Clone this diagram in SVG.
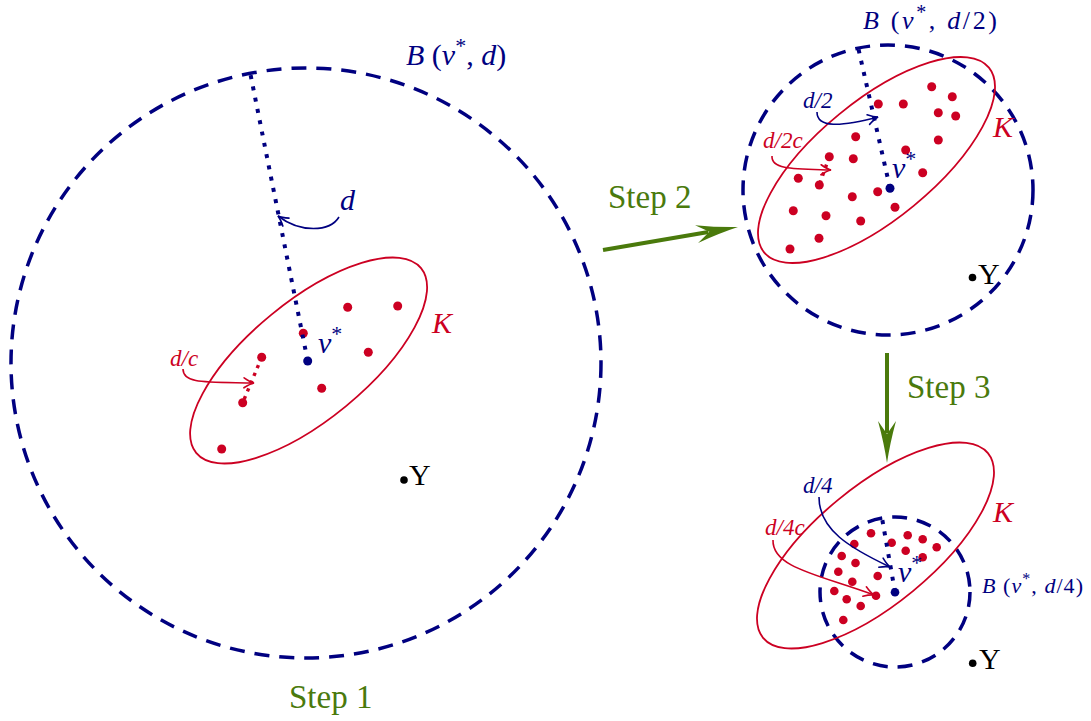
<svg xmlns="http://www.w3.org/2000/svg" width="1091" height="721" viewBox="0 0 1091 721">
<defs>
<style>
.ball{fill:none;stroke:#000080;stroke-width:3.5;stroke-dasharray:15 10}
.K{fill:none;stroke:#cc0022;stroke-width:1.8}
.pt{fill:#cc0022}
.nu{fill:#000080}
.y{fill:#000}
.rad{fill:none;stroke:#000080;stroke-width:4;stroke-dasharray:4 7.5}
.radr{fill:none;stroke:#cc0022;stroke-width:3.4;stroke-dasharray:3.4 5}
.ab{fill:none;stroke:#000080;stroke-width:1.6;marker-end:url(#hb)}
.ar{fill:none;stroke:#cc0022;stroke-width:1.6;marker-end:url(#hr)}
.step{fill:none;stroke:#4a7a0c;stroke-width:4;marker-end:url(#hg)}
text{font-family:"Liberation Serif","Times New Roman",serif}
.tb{fill:#000080}
.tr{fill:#cc0022}
.tk{fill:#000}
.tg{fill:#4a7a0c;font-size:33px}
.i{font-style:italic}
.big{font-size:30px}
.sm{font-size:23px}
.bsm{font-size:22px}
</style>
<marker id="hb" markerUnits="userSpaceOnUse" orient="auto" overflow="visible" refX="0" refY="0" markerWidth="1" markerHeight="1">
<path d="M-10,-5 Q-4,-1 0,0 Q-4,1 -10,5" fill="none" stroke="#000080" stroke-width="1.6" stroke-linecap="round"/>
</marker>
<marker id="hr" markerUnits="userSpaceOnUse" orient="auto" overflow="visible" refX="0" refY="0" markerWidth="1" markerHeight="1">
<path d="M-10,-5 Q-4,-1 0,0 Q-4,1 -10,5" fill="none" stroke="#cc0022" stroke-width="1.6" stroke-linecap="round"/>
</marker>
<marker id="hg" markerUnits="userSpaceOnUse" orient="auto" overflow="visible" refX="-30" refY="0" markerWidth="1" markerHeight="1">
<path d="M0,0 Q-20,-3 -42,-9 L-29,0 L-42,9 Q-20,3 0,0 Z" fill="#4a7a0c"/>
</marker>
</defs>

<g id="ball-d">
<circle class="ball" cx="306" cy="363" r="295"/>
<text class="tb big" x="406" y="65"><tspan class="i">B</tspan> (<tspan class="i">ν</tspan><tspan dy="-12" font-size="22">*</tspan><tspan dy="12">, </tspan><tspan class="i">d</tspan>)</text>
</g>
<g id="K-1">
<ellipse class="K" cx="308.6" cy="360.5" rx="145.5" ry="59" transform="rotate(-39.4 308.6 360.5)"/>
<text class="tr big i" x="432" y="333">K</text>
<circle class="pt" cx="347.7" cy="307.3" r="4.5"/>
<circle class="pt" cx="397.7" cy="306" r="4.5"/>
<circle class="pt" cx="303.3" cy="333.3" r="4.5"/>
<circle class="pt" cx="368.3" cy="352.3" r="4.5"/>
<circle class="pt" cx="261.7" cy="357.3" r="4.5"/>
<circle class="pt" cx="321.7" cy="388.3" r="4.5"/>
<circle class="pt" cx="242.7" cy="402.7" r="4.5"/>
<circle class="pt" cx="221.7" cy="449" r="4.5"/>
</g>
<g id="nu-1">
<circle class="nu" cx="307.7" cy="361" r="4.5"/>
<text class="tb big" x="318" y="353"><tspan class="i">ν</tspan><tspan dy="-12" font-size="22">*</tspan></text>
</g>
<g id="Y-1">
<circle class="y" cx="404" cy="480" r="3.8"/>
<text class="tk big" x="409" y="485">Y</text>
</g>
<g id="label-step1"><text class="tg" x="289" y="708">Step 1</text></g>

<g id="ball-d2">
<circle class="ball" cx="888" cy="190" r="145"/>
<text class="tb" font-size="26" x="863" y="29" textLength="134"><tspan class="i">B</tspan> (<tspan class="i">ν</tspan><tspan dy="-10" font-size="20">*</tspan><tspan dy="10">, </tspan><tspan class="i">d</tspan>/2)</text>
</g>
<g id="K-2">
<ellipse class="K" cx="876.5" cy="160" rx="145.5" ry="59" transform="rotate(-39.4 876.5 160)"/>
<text class="tr big i" x="993" y="137">K</text>
<circle class="pt" cx="931.7" cy="86.7" r="4.5"/>
<circle class="pt" cx="952.3" cy="96.7" r="4.5"/>
<circle class="pt" cx="878.3" cy="104" r="4.5"/>
<circle class="pt" cx="903.3" cy="104" r="4.5"/>
<circle class="pt" cx="938.3" cy="112.7" r="4.5"/>
<circle class="pt" cx="955.7" cy="116" r="4.5"/>
<circle class="pt" cx="855.7" cy="136.7" r="4.5"/>
<circle class="pt" cx="938.3" cy="140" r="4.5"/>
<circle class="pt" cx="905.7" cy="150" r="4.5"/>
<circle class="pt" cx="829.3" cy="156.7" r="4.5"/>
<circle class="pt" cx="853.3" cy="158.7" r="4.5"/>
<circle class="pt" cx="922.7" cy="172.7" r="4.5"/>
<circle class="pt" cx="798.3" cy="178.3" r="4.5"/>
<circle class="pt" cx="819.3" cy="185" r="4.5"/>
<circle class="pt" cx="877.7" cy="191.7" r="4.5"/>
<circle class="pt" cx="852.3" cy="196.7" r="4.5"/>
<circle class="pt" cx="895" cy="207.3" r="4.5"/>
<circle class="pt" cx="793.3" cy="210.7" r="4.5"/>
<circle class="pt" cx="826" cy="215.7" r="4.5"/>
<circle class="pt" cx="860.7" cy="221" r="4.5"/>
<circle class="pt" cx="819" cy="238.3" r="4.5"/>
<circle class="pt" cx="790" cy="249" r="4.5"/>
</g>
<g id="nu-2">
<circle class="nu" cx="890" cy="188.3" r="4.5"/>
<text class="tb big" x="892" y="178"><tspan class="i">ν</tspan><tspan dy="-12" font-size="22">*</tspan></text>
</g>
<g id="Y-2">
<circle class="y" cx="972.5" cy="277.5" r="3.8"/>
<text class="tk big" x="978" y="284">Y</text>
</g>
<g id="label-step2"><text class="tg" x="608" y="208">Step 2</text></g>
<g id="label-step3"><text class="tg" x="907" y="398">Step 3</text></g>

<g id="ball-d4">
<circle class="ball" cx="895" cy="592" r="75"/>
<text class="tb bsm" x="982" y="593" textLength="101"><tspan class="i">B</tspan> (<tspan class="i">ν</tspan><tspan dy="-9" font-size="16">*</tspan><tspan dy="9">, </tspan><tspan class="i">d</tspan>/4)</text>
</g>
<g id="K-3">
<ellipse class="K" cx="875.5" cy="545.5" rx="145.5" ry="59" transform="rotate(-39.4 875.5 545.5)"/>
<text class="tr big i" x="993" y="522">K</text>
<circle class="pt" cx="871" cy="533.3" r="4.3"/>
<circle class="pt" cx="891.7" cy="542.7" r="4.3"/>
<circle class="pt" cx="907.7" cy="535.3" r="4.3"/>
<circle class="pt" cx="922.7" cy="539.3" r="4.3"/>
<circle class="pt" cx="936.7" cy="547.3" r="4.3"/>
<circle class="pt" cx="854.3" cy="544" r="4.3"/>
<circle class="pt" cx="905.7" cy="550.7" r="4.3"/>
<circle class="pt" cx="922.7" cy="557.3" r="4.3"/>
<circle class="pt" cx="841.7" cy="556" r="4.3"/>
<circle class="pt" cx="855.5" cy="563" r="4.3"/>
<circle class="pt" cx="838.3" cy="571.7" r="4.3"/>
<circle class="pt" cx="877.7" cy="576" r="4.3"/>
<circle class="pt" cx="852.3" cy="581.7" r="4.3"/>
<circle class="pt" cx="834.3" cy="591" r="4.3"/>
<circle class="pt" cx="846.7" cy="599.3" r="4.3"/>
<circle class="pt" cx="876" cy="595.7" r="4.3"/>
<circle class="pt" cx="860.7" cy="606" r="4.3"/>
<circle class="pt" cx="843.3" cy="620" r="4.3"/>
</g>
<g id="nu-3">
<circle class="nu" cx="895" cy="592.3" r="4.3"/>
<text class="tb big" x="898" y="582"><tspan class="i">ν</tspan><tspan dy="-12" font-size="22">*</tspan></text>
</g>
<g id="Y-3">
<circle class="y" cx="972.7" cy="663.3" r="3.8"/>
<text class="tk big" x="979" y="669">Y</text>
</g>

<g id="connectors">
<path class="rad" d="M307.7,361 L250,72"/>
<path class="rad" d="M890,188 L858,47"/>
<path class="rad" d="M895,592 L882,518"/>
<path class="radr" d="M261.7,357.3 L242.7,402.7"/>
<path class="radr" d="M829.3,156.7 L819.3,185"/>
<path class="ab" d="M339,217 C330,232 300,233 278,216"/>
<path class="ar" d="M183,369 C183,384 205,382 254,383"/>
<path class="ab" d="M817,112 C817,128 840,127 878,117"/>
<path class="ar" d="M772,156 C771,170 795,169 831,170"/>
<path class="ab" d="M819,497 C819,530 850,548 890,567"/>
<path class="ar" d="M773,540 C772,568 820,575 874,595"/>
<path class="step" d="M603,250 L708.4,232"/>
<path class="step" d="M887,353 L887,433"/>
</g>
<g id="connector-labels">
<text class="tb big i" x="340" y="210">d</text>
<text class="tr sm i" x="170" y="366">d/c</text>
<text class="tb sm i" x="803" y="108">d/2</text>
<text class="tr sm i" x="763" y="148">d/2c</text>
<text class="tb sm i" x="803" y="493">d/4</text>
<text class="tr sm i" x="765" y="535">d/4c</text>
</g>
</svg>
